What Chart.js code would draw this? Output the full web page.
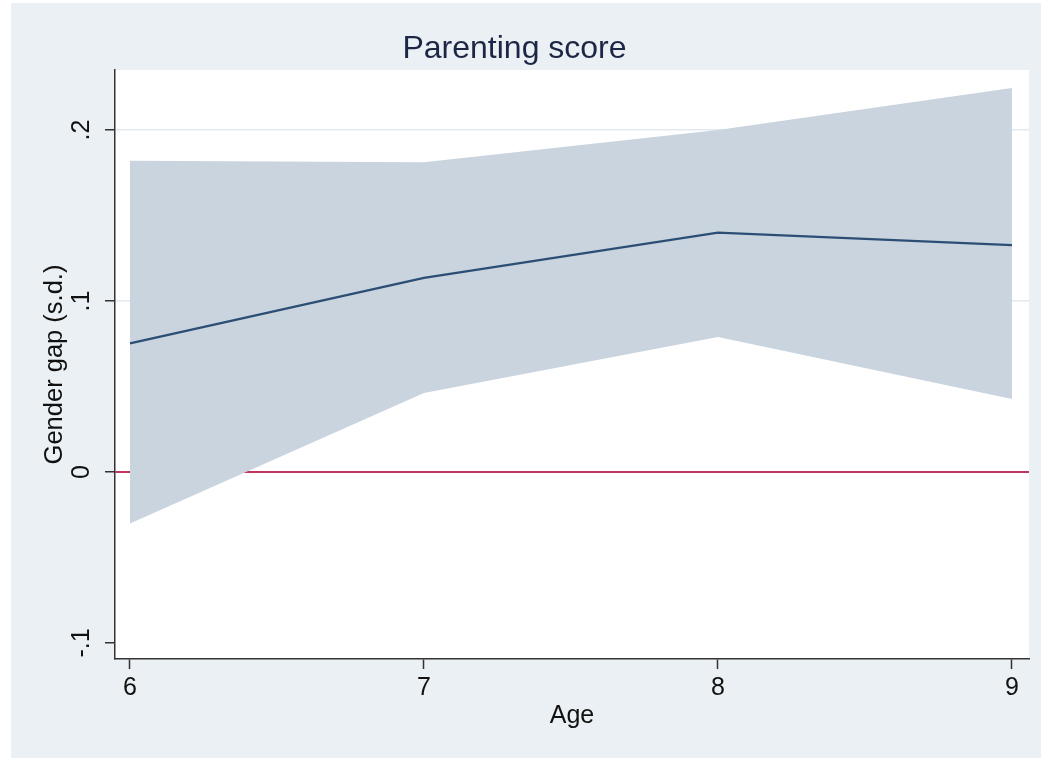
<!DOCTYPE html>
<html>
<head>
<meta charset="utf-8">
<title>Parenting score</title>
<script src="https://cdn.jsdelivr.net/npm/chart.js@4.4.1/dist/chart.umd.min.js"></script>
<style>
  html, body { margin: 0; padding: 0; background: #ffffff; }
  #wrap { width: 1041px; height: 758px; position: relative; }
</style>
</head>
<body>
<div id="wrap"><canvas id="chart" width="1041" height="758"></canvas></div>
<script>
// Gender gap in parenting score by child age, with 95% confidence band
const ages = [6, 7, 8, 9];
const gapEstimate = [0.0752, 0.1135, 0.1400, 0.1327];
const ciUpper = [0.1820, 0.1812, 0.2000, 0.2245];
const ciLower = [-0.0302, 0.0462, 0.0790, 0.0427];

const xTicks = [6, 7, 8, 9];
const yTicks = [-0.1, 0, 0.1, 0.2];
const yTickLabels = ['-.1', '0', '.1', '.2'];
const xRange = [5.949, 9.058];
const yRange = [-0.1094, 0.2351];
const referenceLevel = 0;

const FONT = '"Liberation Sans", Arial, Helvetica, sans-serif';
const INK = '#111111';

const pairs = (xs, ys) => xs.map((x, i) => ({ x: x, y: ys[i] }));

// Stata-like background: light outer region, white plot region
const backdrop = {
  id: 'backdrop',
  beforeDraw(chart) {
    const { ctx, chartArea } = chart;
    ctx.save();
    ctx.fillStyle = '#ffffff';
    ctx.fillRect(0, 0, chart.width, chart.height);
    ctx.fillStyle = '#eaf0f3';
    ctx.fillRect(11, 3, chart.width - 11, chart.height - 3);
    ctx.fillStyle = '#ffffff';
    ctx.fillRect(chartArea.left, chartArea.top,
                 chartArea.right - chartArea.left, chartArea.bottom - chartArea.top);
    ctx.restore();
  }
};

// Vertical y tick labels, placed at the y scale's tick positions
const verticalYLabels = {
  id: 'verticalYLabels',
  afterDraw(chart) {
    const ys = chart.scales.y;
    const ctx = chart.ctx;
    ctx.save();
    ctx.font = '25px ' + FONT;
    ctx.fillStyle = INK;
    ctx.textAlign = 'center';
    ctx.textBaseline = 'middle';
    yTicks.forEach((v, i) => {
      const py = ys.getPixelForValue(v);
      ctx.save();
      ctx.translate(ys.right - 33, py);
      ctx.rotate(-Math.PI / 2);
      ctx.fillText(yTickLabels[i], 0, 0);
      ctx.restore();
    });
    ctx.restore();
  }
};

new Chart(document.getElementById('chart'), {
  type: 'line',
  data: {
    datasets: [
      {
        label: 'Upper bound',
        data: pairs(ages, ciUpper),
        borderWidth: 0,
        borderColor: 'rgba(0,0,0,0)',
        backgroundColor: '#c9d4df',
        pointRadius: 0,
        fill: '+1',
        tension: 0,
        order: 3
      },
      {
        label: 'Lower bound',
        data: pairs(ages, ciLower),
        borderWidth: 0,
        borderColor: 'rgba(0,0,0,0)',
        pointRadius: 0,
        fill: false,
        tension: 0,
        order: 2
      },
      {
        label: 'Gender gap',
        data: pairs(ages, gapEstimate),
        borderColor: '#2c4e74',
        borderWidth: 2.3,
        pointRadius: 0,
        fill: false,
        tension: 0,
        order: 1
      },
      {
        label: 'Zero',
        data: pairs(xRange, [referenceLevel, referenceLevel]),
        borderColor: '#c0355d',
        borderWidth: 2,
        pointRadius: 0,
        fill: false,
        tension: 0,
        order: 4
      }
    ]
  },
  options: {
    responsive: false,
    devicePixelRatio: 1,
    animation: false,
    layout: { padding: { left: 0, right: 12, top: 0, bottom: 0 } },
    plugins: {
      legend: { display: false },
      tooltip: { enabled: false },
      filler: { drawTime: 'beforeDatasetDraw' },
      title: {
        display: true,
        text: 'Parenting score',
        color: '#1c2745',
        font: { family: FONT, size: 32, weight: 'normal', lineHeight: 1.2 },
        padding: { top: 30, bottom: 1.6 }
      }
    },
    scales: {
      x: {
        type: 'linear',
        min: xRange[0],
        max: xRange[1],
        afterBuildTicks(scale) { scale.ticks = xTicks.map(v => ({ value: v })); },
        afterFit(scale) { scale.height = 99; },
        grid: {
          drawOnChartArea: false,
          drawTicks: true,
          tickLength: 10,
          tickColor: '#333333',
          tickWidth: 1.5
        },
        border: { display: true, color: '#333333', width: 1.5 },
        ticks: {
          color: INK,
          font: { family: FONT, size: 25 },
          padding: 4,
          maxRotation: 0,
          callback: v => String(v)
        },
        title: {
          display: true,
          text: 'Age',
          color: INK,
          font: { family: FONT, size: 25, lineHeight: 1.2 },
          padding: { top: 0, bottom: 27 }
        }
      },
      y: {
        type: 'linear',
        min: yRange[0],
        max: yRange[1],
        afterBuildTicks(scale) { scale.ticks = yTicks.map(v => ({ value: v })); },
        afterFit(scale) { scale.width = 115; },
        grid: {
          drawOnChartArea: true,
          drawTicks: true,
          tickLength: 10,
          tickColor: '#333333',
          tickWidth: 1.5,
          lineWidth: 1.5,
          color: ctx => (ctx.tick && ctx.tick.value === yTicks[0]) ? 'rgba(0,0,0,0)' : '#e3eaef'
        },
        border: { display: true, color: '#333333', width: 1.5 },
        ticks: { display: false },
        title: {
          display: true,
          text: 'Gender gap (s.d.)',
          color: INK,
          font: { family: FONT, size: 25.5, lineHeight: 1.2 },
          padding: { top: 40, bottom: 0 }
        }
      }
    }
  },
  plugins: [backdrop, verticalYLabels]
});
</script>
</body>
</html>
